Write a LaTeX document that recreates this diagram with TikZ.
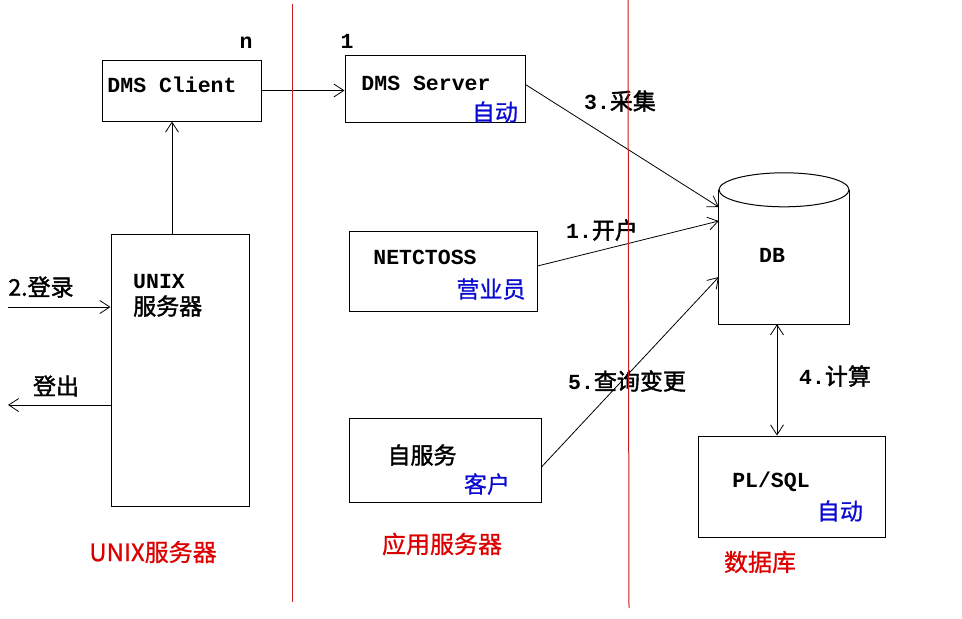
\documentclass[tikz,border=0pt]{standalone}
\usepackage{fontspec}
\setmainfont{Liberation Mono}
\newfontfamily\cjk{Noto Sans CJK SC}
\newfontfamily\cjkb{Noto Sans CJK SC}[FakeBold=1.6]
\newfontfamily\cjkm{Noto Sans CJK SC}[FakeBold=0.8]
\usetikzlibrary{arrows.meta,calc}
\definecolor{redline}{RGB}{200,30,30}
\definecolor{redtext}{RGB}{220,0,0}
\definecolor{bluetext}{RGB}{10,10,210}
\tikzset{
  box/.style={draw, line width=1pt, inner sep=0pt},
  arr/.style={line width=0.8pt, -{Straight Barb[length=10pt,width=13pt,line width=0.8pt]}},
  darr/.style={line width=0.8pt, {Straight Barb[length=10pt,width=13pt,line width=0.8pt]}-{Straight Barb[length=10pt,width=13pt,line width=0.8pt]}},
  mono/.style={font=\fontsize{21.5}{24}\selectfont\bfseries, inner sep=0pt},
  zh/.style={font=\cjkb\fontsize{23}{26}\selectfont, inner sep=0pt},
  zhblue/.style={font=\cjkm\fontsize{23}{26}\selectfont, text=bluetext, inner sep=0pt},
  zhred/.style={font=\cjkm\fontsize{24}{27}\selectfont, text=redtext, inner sep=0pt},
  sep/.style={draw=redline, line width=1pt}
}
\newcommand\numlabel[2]{\fontsize{21.5}{24}\selectfont\bfseries #1{\cjkb\fontsize{23}{26}\selectfont\mdseries #2}}
\begin{document}
\begin{tikzpicture}[x=1pt,y=-1pt]
\useasboundingbox (0,0) rectangle (962,619);
\fill[white] (0,0) rectangle (962,619);

% boxes
\node[box, minimum width=159pt, minimum height=61pt] (cli) at (181.5,90.5) {};
\node[box, minimum width=180pt, minimum height=67pt] (srv) at (435,88.5) {};
\node[box, minimum width=138pt, minimum height=272pt] (unix) at (180,370) {};
\node[box, minimum width=188pt, minimum height=80pt] (net) at (443,271) {};
\node[box, minimum width=192pt, minimum height=84pt] (self) at (445,460) {};
\node[box, minimum width=187pt, minimum height=101pt] (pl) at (791.5,486.5) {};
\node[minimum width=130pt, minimum height=134pt, inner sep=0pt] (dbbody) at (784,257) {};

% DB cylinder
\draw[line width=1pt] (dbbody.north west) -- (dbbody.south west) -- (dbbody.south east) -- (dbbody.north east);
\draw[line width=1pt, fill=white] (dbbody.north) ellipse [x radius=65pt, y radius=17pt];

% texts in boxes
\node[mono] (tcli) at (172,85) {DMS Client};
\node[mono] (tn) at (246,43) {n};
\node[mono] (tsrv) at (426,83) {DMS Server};
\node[mono] (t1) at (347,41) {1};
\node[zhblue] (tsrvauto) at (495,112) {自动};
\node[mono, anchor=west] (tunix) at (133,282) {UNIX};
\node[zh, anchor=west] (tunixzh) at (133,306) {服务器};
\node[mono] (tnet) at (425,257) {NETCTOSS};
\node[zhblue] (tnetzh) at (491,289) {营业员};
\node[zh] (tself) at (422,455) {自服务};
\node[zhblue] (tselfzh) at (487,484) {客户};
\node[mono] (tdb) at (772,255) {DB};
\node[mono] (tpl) at (771,482) {PL/SQL};
\node[zhblue] (tplzh) at (840,511) {自动};

% connectors
\draw[arr] (cli.east) -- (srv.west |- cli.east);
\draw[arr] ([xshift=-8pt]unix.north) -- ([xshift=-8pt]unix.north |- cli.south);
\coordinate (lin) at (8,307);
\coordinate (lout) at (8,405);
\draw[arr] (lin) -- (lin -| unix.west);
\draw[arr] (lout -| unix.west) -- (lout);
\draw[arr] ([yshift=4pt]srv.east) -- ([yshift=50pt]dbbody.west);
\draw[arr] ([yshift=5pt]net.east) -- ([yshift=36pt]dbbody.west);
\draw[arr] ([yshift=-7pt]self.east) -- ([yshift=-20pt]dbbody.west);
\draw[darr] ([xshift=-7pt]dbbody.south) -- ([xshift=-7pt]dbbody.south |- pl.north);

% connector labels
\node[zh] (llogin) at (41,287) {2.登录};
\node[zh] (llogout) at (56,386) {登出};
\node[inner sep=0pt] (l3) at (620,101) {\numlabel{3.}{采集}};
\node[inner sep=0pt] (l1) at (602,230) {\numlabel{1.}{开户}};
\node[inner sep=0pt] (l5) at (627,381) {\numlabel{5.}{查询变更}};
\node[inner sep=0pt] (l4) at (835,376) {\numlabel{4.}{计算}};

% region labels
\node[zhred] (r1) at (153,552) {UNIX服务器};
\node[zhred] (r2) at (442,544) {应用服务器};
\node[zhred] (r3) at (760,562) {数据库};

% separators
\coordinate (s1a) at (292,4);
\coordinate (s1b) at (292,602);
\coordinate (s2a) at (628,0);
\coordinate (s2b) at (629,608);
\draw[sep] (s1a) -- (s1b);
\draw[sep] (s2a) -- (s2b);
\end{tikzpicture}
\end{document}
